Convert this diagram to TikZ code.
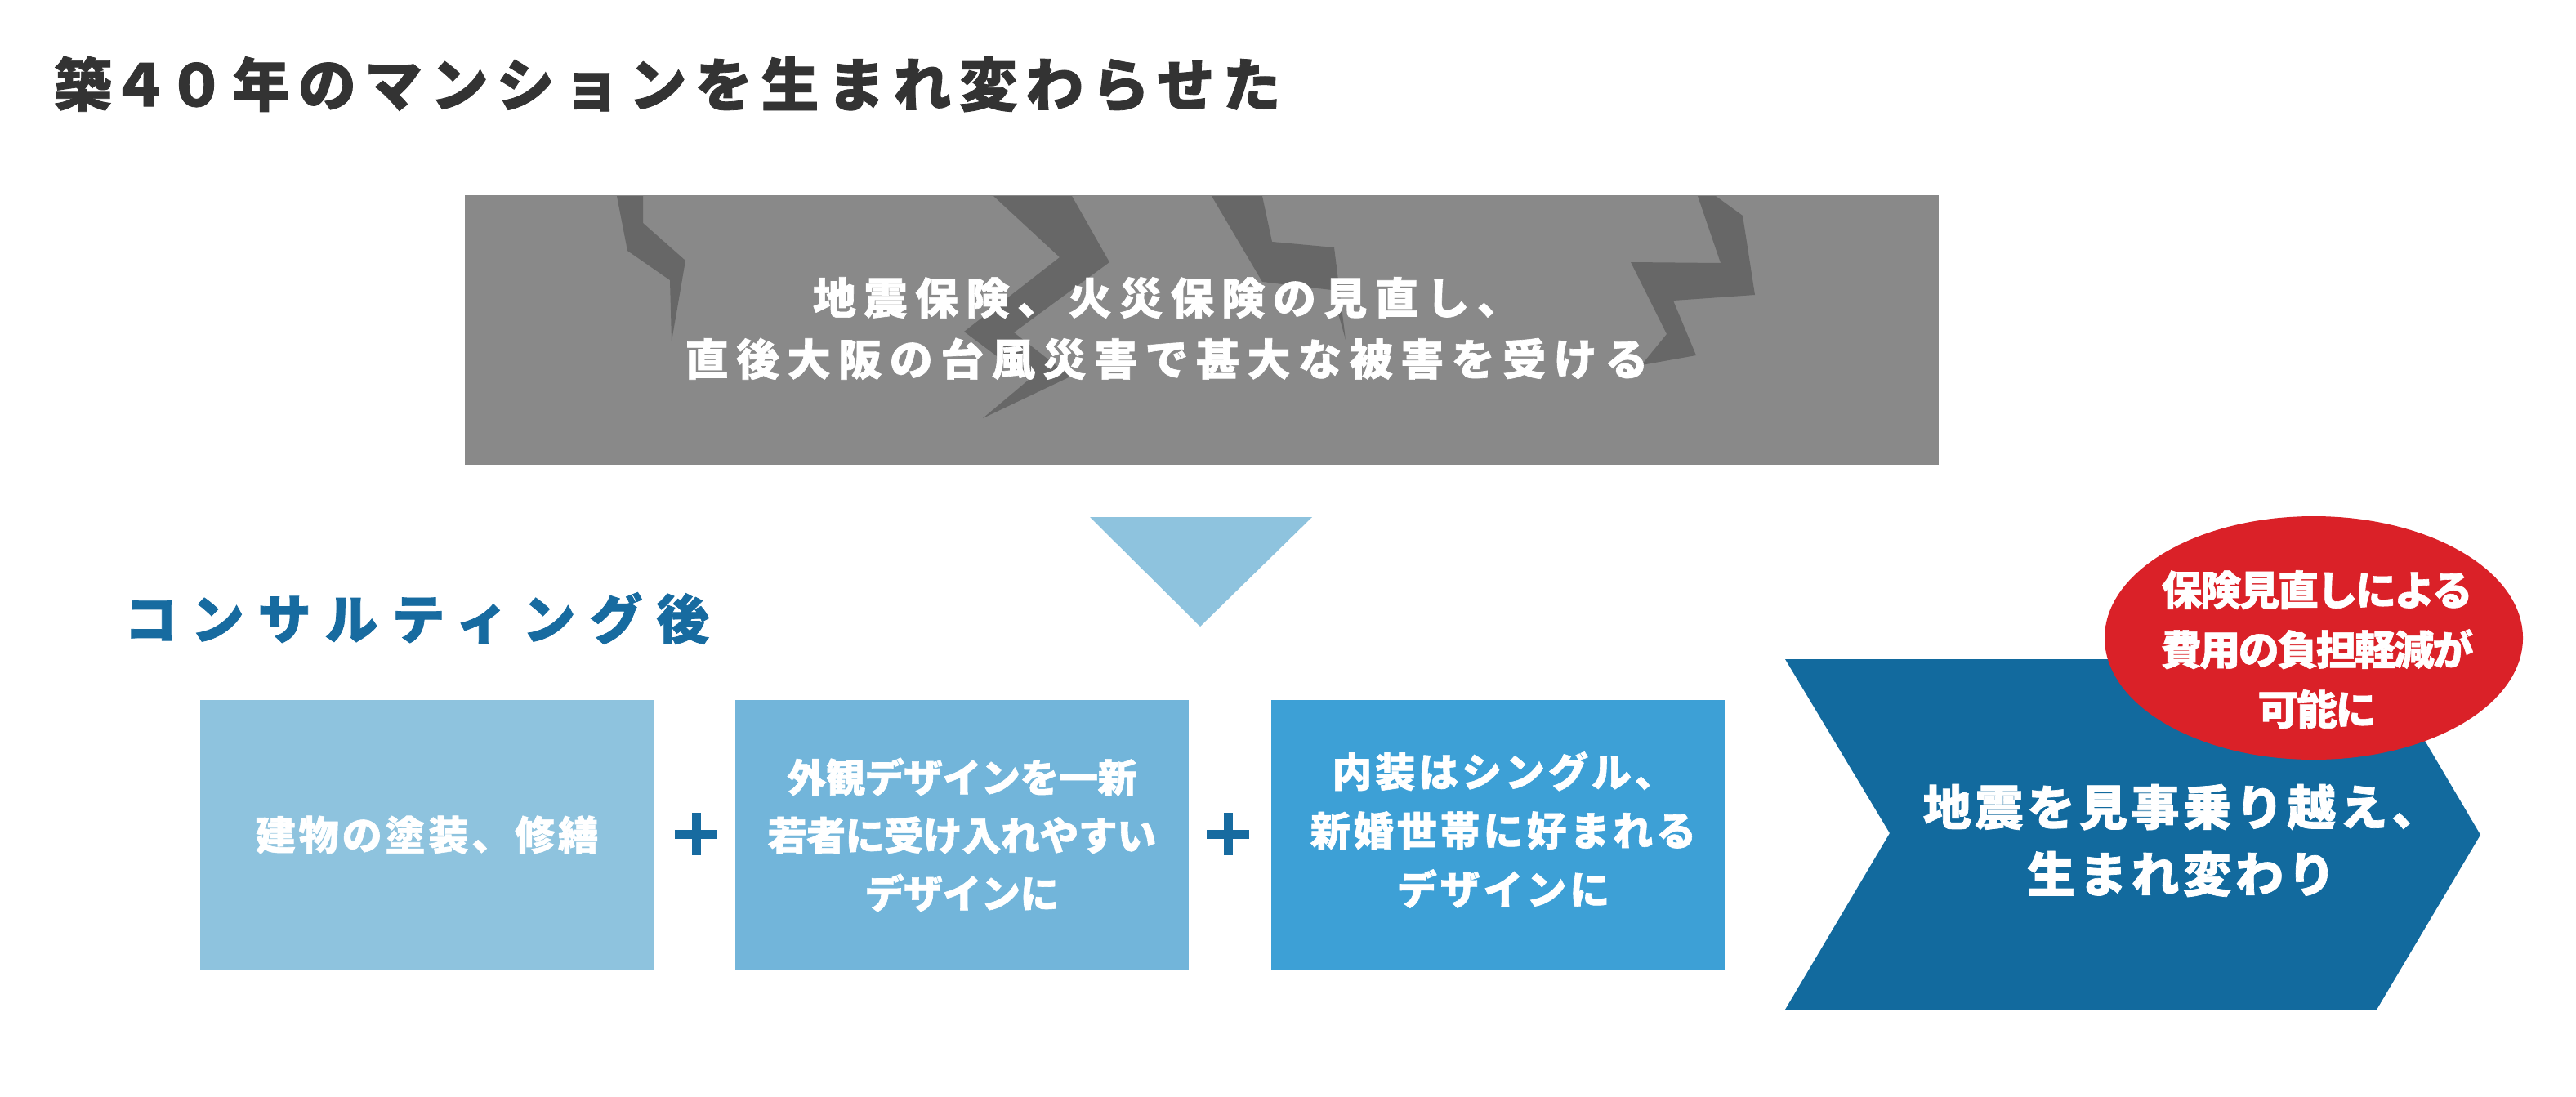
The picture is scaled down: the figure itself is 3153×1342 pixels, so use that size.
\documentclass[tikz,border=0pt]{standalone}
\usepackage{fontspec}
\newfontfamily\jp{Noto Sans CJK JP}
\usetikzlibrary{shapes.geometric}
\definecolor{titlegray}{HTML}{333333}
\definecolor{boxgray}{HTML}{898989}
\definecolor{crackgray}{HTML}{676767}
\definecolor{lightblue}{HTML}{8EC3DE}
\definecolor{midblue}{HTML}{72B5DA}
\definecolor{brightblue}{HTML}{3DA0D6}
\definecolor{darkblue}{HTML}{126A9E}
\definecolor{headblue}{HTML}{176BA0}
\definecolor{alertred}{HTML}{DA2128}
\tikzset{
  txt/.style={inner sep=0pt, outer sep=0pt, align=center, text=white},
  stepbox/.style={inner sep=0pt, outer sep=0pt, minimum width=555pt, minimum height=330pt, align=center, text=white},
  crack/.style={fill=crackgray},
  plusbar/.style={fill=headblue}
}
\begin{document}
\begin{tikzpicture}[x=1pt,y=-1pt]
\useasboundingbox (0,0) rectangle (3153,1342);
\fill[white] (0,0) rectangle (3153,1342);

% title
\node[txt, text=titlegray, anchor=west, font={\jp\bfseries\fontsize{71}{80}\selectfont\addfontfeatures{LetterSpace=14,FakeBold=1.2}}] (title) at (66,103) {築\kern-1pt ４\kern-2pt ０\kern8pt 年のマンションを生まれ変わらせた};

% gray box with cracks
\node[inner sep=0pt, outer sep=0pt, fill=boxgray, minimum width=1804pt, minimum height=330pt] (gbox) at (1471,404) {};
\fill[crack] (755,240) -- (787,240) -- (787,273) -- (839,319) -- (822,418) -- (820,343) -- (768,307) -- cycle;
\fill[crack] (1216,240) -- (1312,240) -- (1358,321) -- (1241,407) -- (1310,461) -- (1203,512) -- (1259,465) -- (1180,406) -- (1297,315) -- cycle;
\fill[crack] (1483,240) -- (1545,240) -- (1557,296) -- (1633,303) -- (1647,416) -- (1630,355) -- (1545,345) -- cycle;
\fill[crack] (2078,240) -- (2100,240) -- (2133,264) -- (2148,361) -- (2048,368) -- (2076,435) -- (2009,447) -- (2040,409) -- (1996,321) -- (2106,322) -- cycle;
\node[txt, font={\jp\bfseries\fontsize{53}{75}\selectfont\addfontfeatures{LetterSpace=18,FakeBold=1.2}}] (gtext) at (1428,402) {地震保険、火災保険の見直し、\\直後大阪の台風災害で甚大な被害を受ける};

% down triangle
\fill[lightblue] (1334,633) -- (1606,633) -- (1469,767) -- cycle;

% heading
\node[txt, text=headblue, anchor=west, font={\jp\bfseries\fontsize{65}{70}\selectfont\addfontfeatures{LetterSpace=26,FakeBold=1.2}}] (head) at (152,757) {コンサルティング後};

% three boxes
\node[stepbox, fill=lightblue, font={\jp\bfseries\fontsize{49}{71}\selectfont\addfontfeatures{LetterSpace=8,FakeBold=1.2}}] (b1) at (522.5,1022) {建物の塗装、修繕};
\node[stepbox, fill=midblue, font={\jp\bfseries\fontsize{48}{71}\selectfont\addfontfeatures{LetterSpace=-1,FakeBold=1.2}}] (b2) at (1177.5,1022) {外観デザインを一新\\若者に受け入れやすい\\デザインに};
\node[stepbox, fill=brightblue] (b3) at (1833.5,1022) {};
\node[txt, font={\jp\bfseries\fontsize{49}{72}\selectfont\addfontfeatures{LetterSpace=8,FakeBold=1.2}}] (b3t) at (1840,1016) {内装はシングル、\\新婚世帯に好まれる\\デザインに};

% plus signs
\fill[plusbar] (826,1015.5) rectangle (878,1026.5);
\fill[plusbar] (846.5,995) rectangle (857.5,1047);
\fill[plusbar] (1477,1015.5) rectangle (1529,1026.5);
\fill[plusbar] (1497.5,995) rectangle (1508.5,1047);

% chevron
\fill[darkblue] (2185,807) -- (2909,807) -- (3036,1022) -- (2909,1236) -- (2185,1236) -- (2313,1020) -- cycle;
\node[txt, font={\jp\bfseries\fontsize{59}{82}\selectfont\addfontfeatures{LetterSpace=8,FakeBold=1.2}}] (chevt) at (2670,1029) {地震を見事乗り越え、\\生まれ変わり};

% red ellipse
\node[ellipse, inner sep=0pt, outer sep=0pt, fill=alertred, minimum width=512pt, minimum height=298pt] (ell) at (2832,781) {};
\node[txt, font={\jp\bfseries\fontsize{50}{73}\selectfont\addfontfeatures{LetterSpace=-5,FakeBold=1.2}}] (ellt) at (2836,795) {保険見直しによる\\費用の負担軽減が\\可能に};
\end{tikzpicture}
\end{document}
